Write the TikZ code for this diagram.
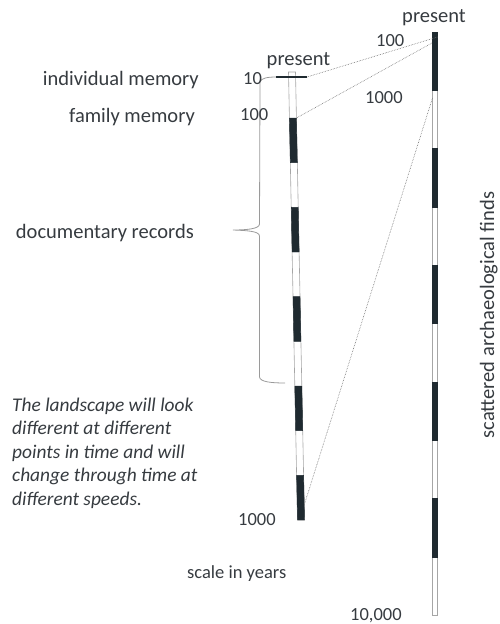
\documentclass[tikz,border=0pt]{standalone}
\usepackage{fontspec}
\setmainfont{Carlito}
\definecolor{ink}{HTML}{363B40}
\definecolor{bardark}{HTML}{1F2A30}
\definecolor{braceg}{HTML}{9A9A9A}
\definecolor{dotg}{HTML}{6E6E6E}
\begin{document}
\begin{tikzpicture}[x=1pt,y=-1pt,
  lbl/.style={font=\fontsize{20.5}{22}\selectfont, text=ink, inner sep=0pt},
  num/.style={font=\fontsize{18.5}{20}\selectfont, text=ink, inner sep=0pt},
  note/.style={font=\fontsize{19.4}{23.5}\selectfont\itshape, text=ink, inner sep=0pt},
  barout/.style={draw=gray!70, line width=0.6pt, fill=white},
  bardk/.style={fill=bardark, draw=bardark, line width=0.4pt},
  linkline/.style={draw=dotg, densely dotted, line width=0.6pt},
  bracel/.style={draw=braceg, line width=0.8pt}]
\useasboundingbox (0,0) rectangle (500,624);

% ---- short scale (1000 years), slightly leaning
\begin{scope}[shift={(292,72)}, xslant=-0.0201]
  \path[barout] (-3.5,0) rectangle (3.5,448);
  \foreach \k in {0,2,4,6,8}
    \path[bardk] (-3.5,{46+\k*44.67}) rectangle (3.5,{46+(\k+1)*44.67});
  \coordinate (l100) at (3.5,46);
  \coordinate (l1000) at (3.5,433);
\end{scope}
% top bar marking the present
\coordinate (capL) at (276,77);
\coordinate (capR) at (307,77);
\draw[line width=2pt, bardark] (capL) -- (capR);

% ---- long scale (10,000 years)
\begin{scope}[shift={(434.5,32)}]
  \path[barout] (-2.5,0) rectangle (2.5,583);
  \foreach \k in {0,2,4,6,8}
    \path[bardk] (-2.5,{\k*58.3}) rectangle (2.5,{(\k+1)*58.3});
  \coordinate (r0) at (3,5);
  \coordinate (r100) at (-2.5,11);
  \coordinate (r1000) at (-2,66);
\end{scope}

% ---- links between the two scales
\draw[linkline] (r0) -- (capR);
\draw[linkline] (r100) -- (l100);
\draw[linkline] (r1000) -- (l1000);

% ---- brace for documentary records
\coordinate (brTop) at (260,82);
\coordinate (brTip) at (233,230);
\coordinate (brBot) at (285,383);
\draw[bracel] (capL) .. controls (268,77) and (261,78) .. (brTop)
  -- (259.5,224) .. controls (259.5,229) and (246,230) .. (brTip)
  .. controls (246,230.5) and (259.5,231) .. (259.5,236)
  -- (259.5,377) .. controls (260,382) and (272,383) .. (brBot);

% ---- labels
\node[lbl, anchor=base] (presL) at (298.5,65) {present};
\node[lbl, anchor=base] (presR) at (434,22) {present};
\node[lbl, anchor=base east] (indiv) at (199,85) {individual memory};
\node[lbl, anchor=base east] (family) at (195,122) {family memory};
\node[num, anchor=base west] (t10) at (243,84) {10};
\node[num, anchor=base west] (t100) at (240,120) {100};
\node[lbl, anchor=base east] (docs) at (194,238) {documentary records};
\node[num, anchor=base west] (r100t) at (376,46) {100};
\node[num, anchor=base west] (r1000t) at (365,103) {1000};
\node[num, anchor=base west] (l1000t) at (238,525) {1000};
\node[num, anchor=base west] (scale) at (187,578) {scale in years};
\node[num, anchor=base west] (tenk) at (350,620) {10,000};
\node[lbl, rotate=90, anchor=base] (finds) at (494,315) {scattered archaeological finds};

% ---- note on the landscape, one line per row
\foreach \txt [count=\i] in {The landscape will look, different at different,
    points in time and will, change through time at, different speeds.}
  \node[note, anchor=base west] (note\i) at (12,{411+(\i-1)*23.5}) {\txt};
\end{tikzpicture}
\end{document}
